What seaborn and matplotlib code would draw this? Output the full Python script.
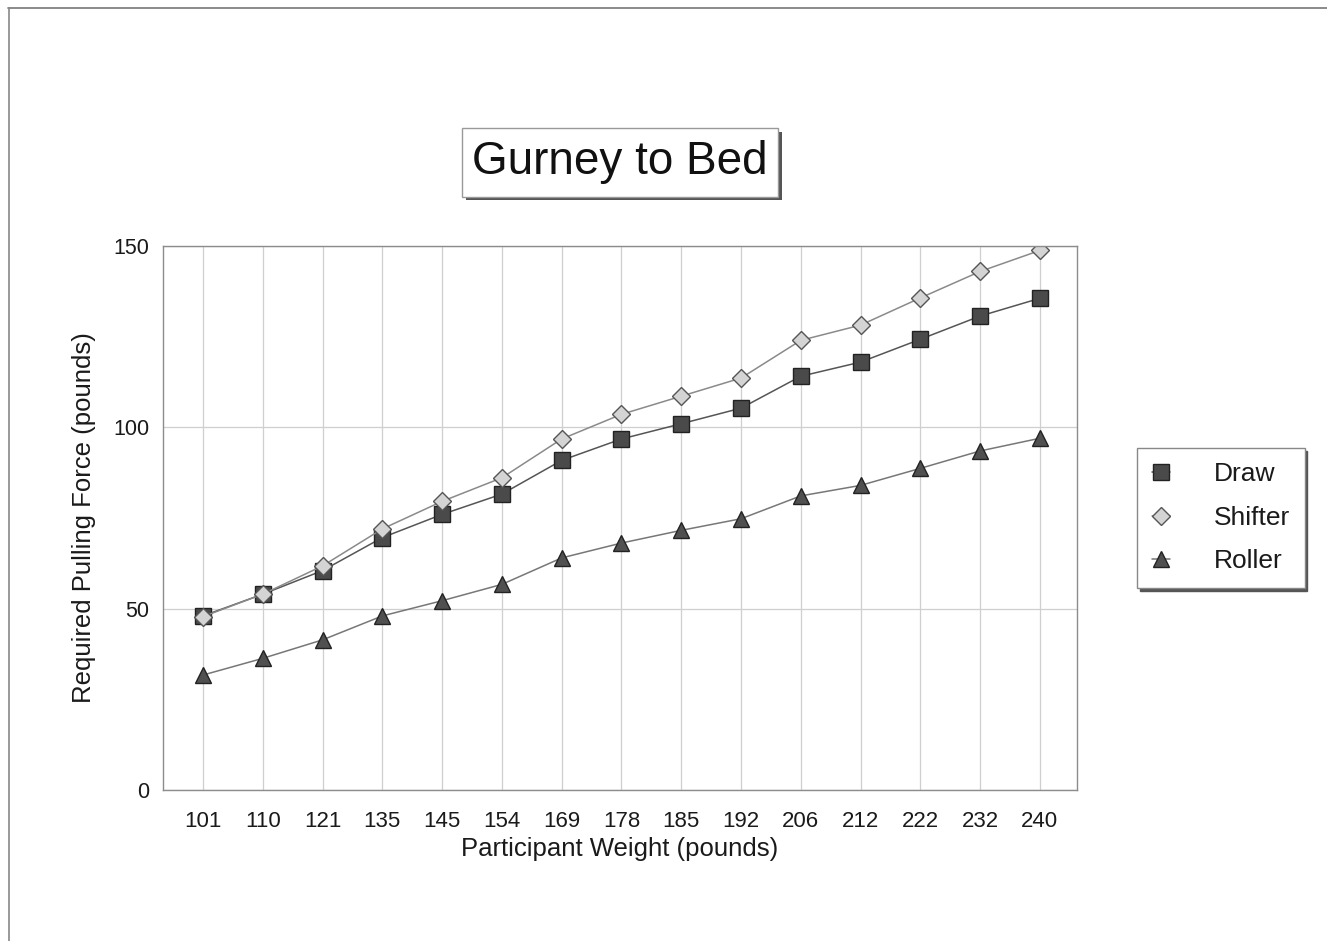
import pandas as pd
import seaborn as sns
import matplotlib.pyplot as plt
from matplotlib.patches import Rectangle
from matplotlib.lines import Line2D

# Data
weights = ['101', '110', '121', '135', '145', '154', '169', '178',
           '185', '192', '206', '212', '222', '232', '240']
draw = [48, 54, 60.5, 69.6, 76, 81.6, 90.9, 96.8,
        101, 105.3, 114.1, 118, 124.3, 130.7, 135.6]
shifter = [47.8, 54, 61.8, 72, 79.6, 86.1, 96.8, 103.6,
           108.6, 113.6, 124, 128.2, 135.7, 143, 148.8]
roller = [31.7, 36.3, 41.4, 48, 52.2, 56.7, 64, 68.1,
          71.6, 74.8, 81.1, 84, 88.7, 93.5, 97]

df = pd.DataFrame({'pos': range(len(weights)), 'Draw': draw,
                   'Shifter': shifter, 'Roller': roller})

sns.set_style('white')
plt.rcParams['font.family'] = ['Liberation Sans', 'DejaVu Sans']

fig = plt.figure(figsize=(13.27, 9.41), dpi=100)
ax = fig.add_axes([0.1228, 0.1605, 0.6888, 0.578])

sns.lineplot(data=df, x='pos', y='Draw', ax=ax, color='#555555', lw=1.1,
             marker='s', markersize=11, markerfacecolor='#4a4a4a',
             markeredgecolor='#222222', markeredgewidth=1, label='Draw')
sns.lineplot(data=df, x='pos', y='Shifter', ax=ax, color='#8a8a8a', lw=1.1,
             marker='D', markersize=9, markerfacecolor='#d4d4d4',
             markeredgecolor='#555555', markeredgewidth=1, label='Shifter')
sns.lineplot(data=df, x='pos', y='Roller', ax=ax, color='#777777', lw=1.1,
             marker='^', markersize=12, markerfacecolor='#505050',
             markeredgecolor='#222222', markeredgewidth=1, label='Roller')

ax.set_xlim(-0.67, 14.62)
ax.set_ylim(0, 150)
ax.set_xticks(range(len(weights)))
ax.set_xticklabels(weights)
ax.set_yticks([0, 50, 100, 150])
ax.tick_params(length=0, labelsize=16, colors='#1a1a1a')
ax.tick_params(axis='x', pad=15)
ax.tick_params(axis='y', pad=10, labelsize=15.5)
ax.grid(True, color='#cfcfcf', lw=0.9)
for s in ax.spines.values():
    s.set_color('#8c8c8c')
    s.set_linewidth(1)
ax.set_xlabel('Participant Weight (pounds)', fontsize=18.5, color='#1a1a1a', labelpad=4)
ax.set_ylabel('Required Pulling Force (pounds)', fontsize=18.5, color='#1a1a1a', labelpad=12)

# legend box with shadow
leg = ax.legend(loc='upper left', bbox_to_anchor=(0.857, 0.524),
                bbox_transform=fig.transFigure, fontsize=19, frameon=True,
                fancybox=False, shadow={'color': '#555555', 'alpha': 1},
                edgecolor='#888888', borderpad=0.55, handlelength=0.7,
                handletextpad=1.65, labelspacing=0.74, borderaxespad=0)
leg.get_frame().set_linewidth(1)
for t in leg.get_texts():
    t.set_color('#1a1a1a')

# title box with shadow
fig.patches.append(Rectangle((0.351, 0.787), 0.238, 0.073, transform=fig.transFigure,
                             facecolor='#555555', edgecolor='none', zorder=1))
fig.patches.append(Rectangle((0.348, 0.791), 0.238, 0.073, transform=fig.transFigure,
                             facecolor='white', edgecolor='#999999', lw=1, zorder=2))
fig.text(0.467, 0.828, 'Gurney to Bed', fontsize=33, ha='center', va='center',
         color='#111111', zorder=3)

# outer frame lines (top and left)
fig.add_artist(Line2D([0.006, 1.0], [0.991, 0.991], transform=fig.transFigure,
                      color='#777777', lw=1.2))
fig.add_artist(Line2D([0.0068, 0.0068], [0.0, 0.991], transform=fig.transFigure,
                      color='#888888', lw=1.2))

fig.savefig('out.png', dpi=100)
